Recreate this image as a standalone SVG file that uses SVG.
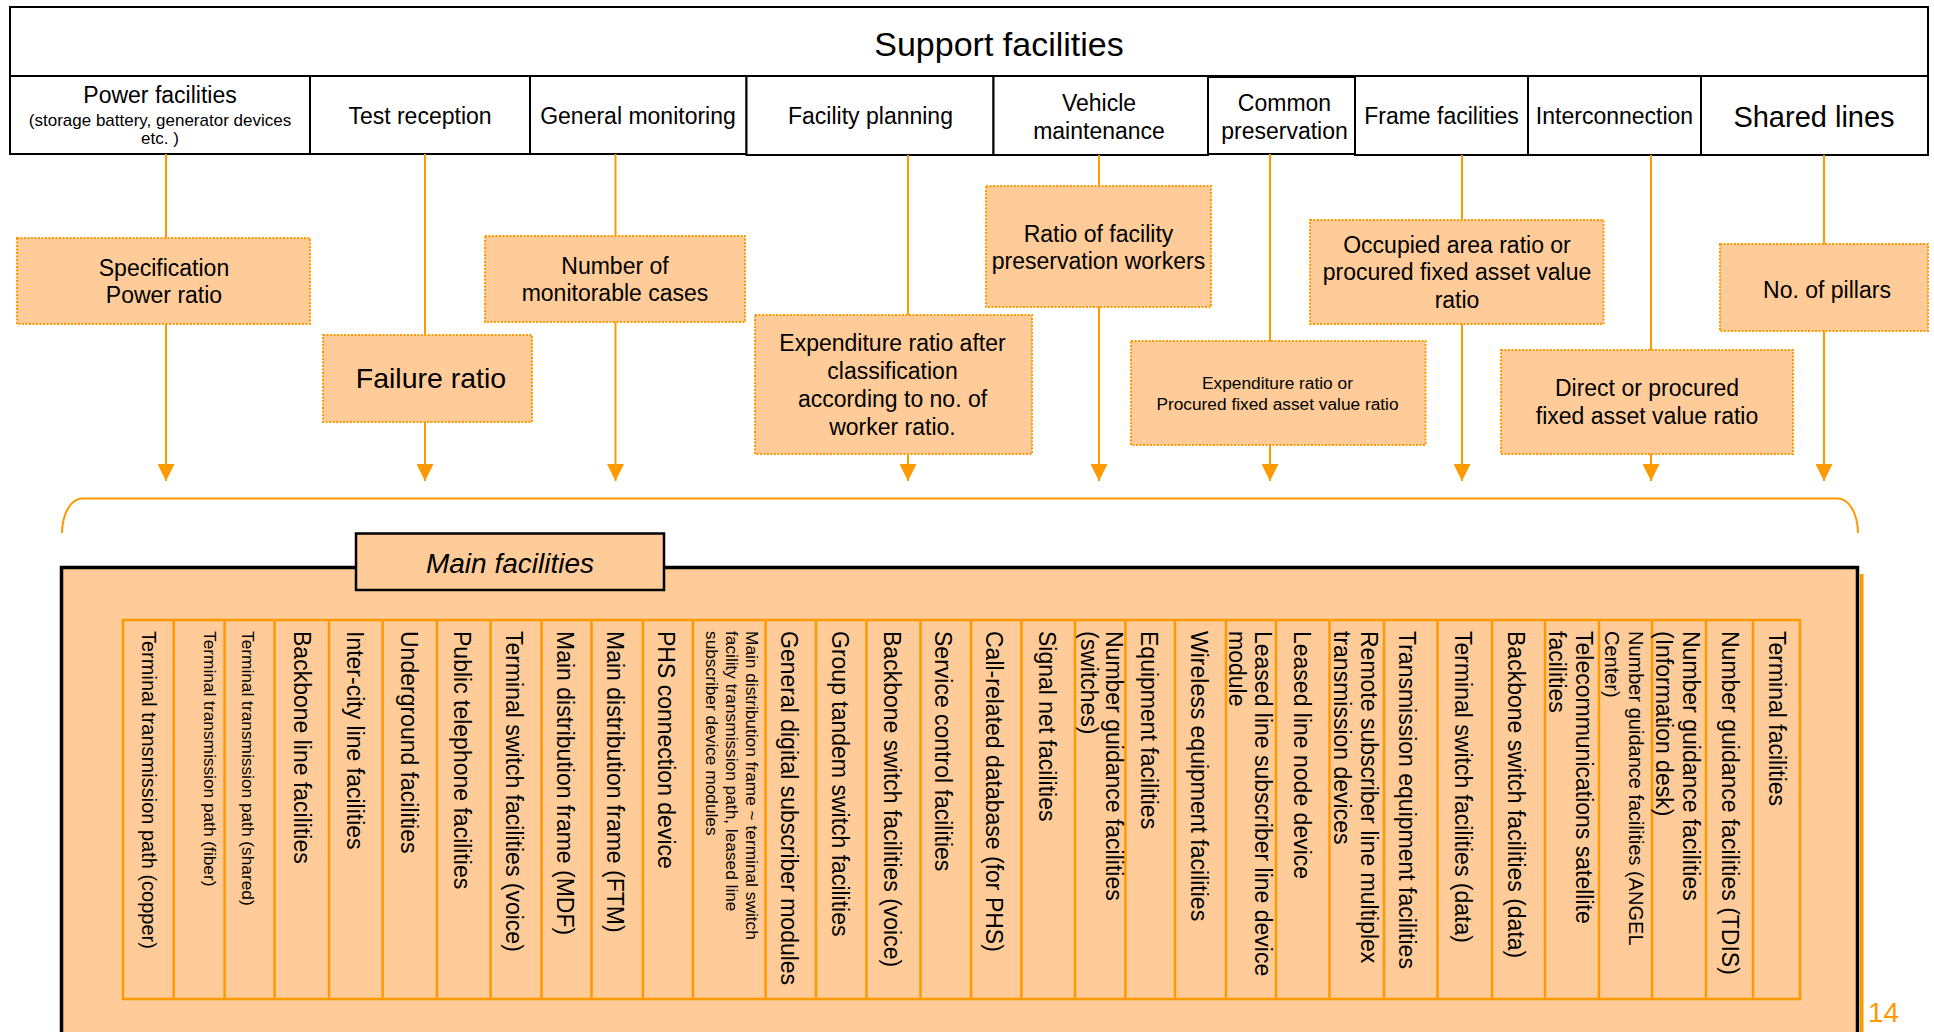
<svg xmlns="http://www.w3.org/2000/svg" width="1934" height="1032" viewBox="0 0 1934 1032">
<defs>
<style>
text { font-family: "Liberation Sans", Arial, Helvetica, sans-serif; fill: #000; }
.c { text-anchor: middle; }
.hdr { fill: #fff; stroke: #000; stroke-width: 2; }
.metric { fill: #FFCC99; stroke: #FF9900; stroke-width: 2; stroke-dasharray: 2 1.5; }
.conn { stroke: #FF9900; stroke-width: 2; fill: none; }
.arrow { stroke: #FF9900; stroke-width: 2; fill: none; marker-end: url(#arr); }
.colline { stroke: #FF9900; stroke-width: 2.5; fill: none; }
.f17 { font-size: 17.3px; }
.f20 { font-size: 20px; }
.f23 { font-size: 23px; }
</style>
<marker id="arr" markerUnits="userSpaceOnUse" markerWidth="17" markerHeight="17" viewBox="0 0 17 17" refX="17" refY="8.5" orient="auto">
<path d="M0,0 L17,8.5 L0,17 z" fill="#FF9900"/>
</marker>
</defs>

<rect x="0" y="0" width="1934" height="1032" fill="#FFFFFF"/>

<!-- Header -->
<g id="support-facilities">
<rect class="hdr" x="10" y="7" width="1918" height="69"/>
<text class="c" x="999" y="56" font-size="34">Support facilities</text>
</g>
<g id="hdr-power">
<rect class="hdr" x="10" y="76" width="300" height="78"/>
<text class="c" x="160" y="103" font-size="23">Power facilities</text>
<text class="c" x="160" y="125.5" font-size="17">(storage battery, generator devices</text>
<text class="c" x="160" y="144" font-size="17">etc. )</text>
</g>
<g id="hdr-test">
<rect class="hdr" x="310" y="76" width="220" height="78"/>
<text class="c f23" x="420" y="124">Test reception</text>
</g>
<g id="hdr-monitoring">
<rect class="hdr" x="530" y="76" width="216.5" height="78"/>
<text class="c f23" x="638" y="124">General monitoring</text>
</g>
<g id="hdr-planning">
<rect class="hdr" x="746.5" y="76" width="247" height="79"/>
<text class="c f23" x="870.5" y="124">Facility planning</text>
</g>
<g id="hdr-vehicle">
<rect class="hdr" x="993.5" y="76" width="214.5" height="79"/>
<text class="c f23" x="1099" y="110.5">Vehicle</text>
<text class="c f23" x="1099" y="138.5">maintenance</text>
</g>
<g id="hdr-common">
<rect class="hdr" x="1208" y="77" width="147" height="77" stroke-width="3"/>
<text class="c f23" x="1284.5" y="110.5">Common</text>
<text class="c f23" x="1284.5" y="138.5">preservation</text>
</g>
<g id="hdr-frame">
<rect class="hdr" x="1355" y="76" width="173" height="79"/>
<text class="c f23" x="1441.5" y="124">Frame facilities</text>
</g>
<g id="hdr-interconnection">
<rect class="hdr" x="1528" y="76" width="173" height="79"/>
<text class="c f23" x="1614.5" y="124">Interconnection</text>
</g>
<g id="hdr-shared">
<rect class="hdr" x="1701" y="76" width="227" height="79"/>
<text class="c" x="1814" y="127" font-size="29">Shared lines</text>
</g>

<!-- Connectors -->
<g id="connectors">
<line class="conn" x1="166" y1="154" x2="166" y2="238"/>
<line class="arrow" x1="166" y1="324" x2="166" y2="481"/>
<line class="conn" x1="425" y1="154" x2="425" y2="335"/>
<line class="arrow" x1="425" y1="422" x2="425" y2="481"/>
<line class="conn" x1="615.5" y1="154" x2="615.5" y2="236"/>
<line class="arrow" x1="615.5" y1="322" x2="615.5" y2="481"/>
<line class="conn" x1="908" y1="155" x2="908" y2="315"/>
<line class="arrow" x1="908" y1="454" x2="908" y2="481"/>
<line class="conn" x1="1099" y1="155" x2="1099" y2="186"/>
<line class="arrow" x1="1099" y1="307" x2="1099" y2="481"/>
<line class="conn" x1="1270" y1="154" x2="1270" y2="341"/>
<line class="arrow" x1="1270" y1="445" x2="1270" y2="481"/>
<line class="conn" x1="1462" y1="155" x2="1462" y2="220"/>
<line class="arrow" x1="1462" y1="324" x2="1462" y2="481"/>
<line class="conn" x1="1651" y1="155" x2="1651" y2="350"/>
<line class="arrow" x1="1651" y1="454" x2="1651" y2="481"/>
<line class="conn" x1="1824" y1="155" x2="1824" y2="244"/>
<line class="arrow" x1="1824" y1="331" x2="1824" y2="481"/>
<path class="conn" d="M62,533 A20,35 0 0 1 82,498.5 L1838,498.5 A20,35 0 0 1 1858,533"/>
</g>

<!-- Metric boxes -->
<g id="m-power-ratio">
<rect class="metric" x="17" y="238" width="293" height="86"/>
<text class="c f23" x="164" y="276">Specification</text>
<text class="c f23" x="164" y="303">Power ratio</text>
</g>
<g id="m-failure">
<rect class="metric" x="323" y="335" width="209" height="87"/>
<text class="c" x="431" y="388" font-size="28.5">Failure ratio</text>
</g>
<g id="m-monitorable">
<rect class="metric" x="485" y="236" width="260" height="86"/>
<text class="c f23" x="615" y="274">Number of</text>
<text class="c f23" x="615" y="301">monitorable cases</text>
</g>
<g id="m-expenditure-worker">
<rect class="metric" x="755" y="315" width="277" height="139"/>
<text class="c f23" x="892.5" y="351">Expenditure ratio after</text>
<text class="c f23" x="892.5" y="379">classification</text>
<text class="c f23" x="892.5" y="407">according to no. of</text>
<text class="c f23" x="892.5" y="435">worker ratio.</text>
</g>
<g id="m-preservation-workers">
<rect class="metric" x="986" y="186" width="225" height="121"/>
<text class="c f23" x="1098.5" y="242">Ratio of facility</text>
<text class="c f23" x="1098.5" y="269">preservation workers</text>
</g>
<g id="m-expenditure-procured">
<rect class="metric" x="1131" y="341" width="294.5" height="104"/>
<text class="c f17" x="1277.5" y="389">Expenditure ratio or</text>
<text class="c f17" x="1277.5" y="410">Procured fixed asset value ratio</text>
</g>
<g id="m-occupied-area">
<rect class="metric" x="1310" y="220" width="293.5" height="104"/>
<text class="c f23" x="1457" y="253">Occupied area ratio or</text>
<text class="c f23" x="1457" y="280">procured fixed asset value</text>
<text class="c f23" x="1457" y="308">ratio</text>
</g>
<g id="m-direct-procured">
<rect class="metric" x="1501" y="350" width="292" height="104"/>
<text class="c f23" x="1647" y="396">Direct or procured</text>
<text class="c f23" x="1647" y="424">fixed asset value ratio</text>
</g>
<g id="m-pillars">
<rect class="metric" x="1720" y="244" width="208" height="87"/>
<text class="c f23" x="1827" y="298">No. of pillars</text>
</g>

<!-- Main facilities -->
<g id="main-facilities">
<rect x="1860" y="574" width="3.5" height="470" fill="#FF9900"/>
<rect x="61.5" y="567.5" width="1796" height="480" fill="#FFCC99" stroke="#000" stroke-width="3.5"/>
<rect x="356" y="533.5" width="308" height="56.5" fill="#FFCC99" stroke="#000" stroke-width="2.5"/>
<text class="c" x="510" y="573" font-size="28" font-style="italic">Main facilities</text>

<rect class="colline" x="123" y="620" width="1677" height="379" stroke-width="3"/>
<path class="colline" d="M173.7,620V999 M224.6,620V999 M274.6,620V999 M329,620V999 M382.6,620V999 M437,620V999 M490.6,620V999 M541.5,620V999 M591.5,620V999 M642.9,620V999 M692.9,620V999 M765.6,620V999 M816,620V999 M866.5,620V999 M920.5,620V999 M971,620V999 M1021.4,620V999 M1075,620V999 M1125.4,620V999 M1175,620V999 M1226,620V999 M1276,620V999 M1329.5,620V999 M1384,620V999 M1437.5,620V999 M1492,620V999 M1545,620V999 M1599,620V999 M1652,620V999 M1706,620V999 M1753,620V999"/>

<text class="f20" transform="translate(142,631) rotate(90)">Terminal transmission path (copper)</text>
<text class="f17" transform="translate(204,631) rotate(90)">Terminal transmission path (fiber)</text>
<text class="f17" transform="translate(242,631) rotate(90)">Terminal transmission path (shared)</text>
<text class="f23" transform="translate(293.5,631) rotate(90)">Backbone line facilities</text>
<text class="f23" transform="translate(347,631) rotate(90)">Inter-city line facilities</text>
<text class="f23" transform="translate(400.5,631) rotate(90)">Underground facilities</text>
<text class="f23" transform="translate(454,631) rotate(90)">Public telephone facilities</text>
<text class="f23" transform="translate(506,631) rotate(90)">Terminal switch facilities (voice)</text>
<text class="f23" transform="translate(557,631) rotate(90)">Main distribution frame (MDF)</text>
<text class="f23" transform="translate(607,631) rotate(90)">Main distribution frame (FTM)</text>
<text class="f23" transform="translate(658,631) rotate(90)">PHS connection device</text>
<text class="f17" transform="translate(746,631) rotate(90)"><tspan x="0" y="0">Main distribution frame ~ terminal switch</tspan><tspan x="0" y="20">facility transmission path, leased line</tspan><tspan x="0" y="40">subscriber device modules</tspan></text>
<text class="f23" transform="translate(781,631) rotate(90)">General digital subscriber modules</text>
<text class="f23" transform="translate(832,631) rotate(90)">Group tandem switch facilities</text>
<text class="f23" transform="translate(884,631) rotate(90)">Backbone switch facilities (voice)</text>
<text class="f23" transform="translate(935,631) rotate(90)">Service control facilities</text>
<text class="f23" transform="translate(986,631) rotate(90)">Call-related database (for PHS)</text>
<text class="f23" transform="translate(1039,631) rotate(90)">Signal net facilities</text>
<text class="f23" transform="translate(1106,631) rotate(90)"><tspan x="0" y="0">Number guidance facilities</tspan><tspan x="0" y="25">(switches)</tspan></text>
<text class="f23" transform="translate(1140.5,631) rotate(90)">Equipment facilities</text>
<text class="f23" transform="translate(1191,631) rotate(90)">Wireless equipment facilities</text>
<text class="f23" transform="translate(1255,631) rotate(90)"><tspan x="0" y="0">Leased line subscriber line device</tspan><tspan x="0" y="26.5">module</tspan></text>
<text class="f23" transform="translate(1294,631) rotate(90)">Leased line node device</text>
<text class="f23" transform="translate(1361,631) rotate(90)"><tspan x="0" y="0">Remote subscriber line multiplex</tspan><tspan x="0" y="27">transmission devices</tspan></text>
<text class="f23" transform="translate(1398.5,631) rotate(90)">Transmission equipment facilities</text>
<text class="f23" transform="translate(1455,631) rotate(90)">Terminal switch facilities (data)</text>
<text class="f23" transform="translate(1508,631) rotate(90)">Backbone switch facilities (data)</text>
<text class="f23" transform="translate(1576,631) rotate(90)"><tspan x="0" y="0">Telecommunications satellite</tspan><tspan x="0" y="27">facilities</tspan></text>
<text class="f20" transform="translate(1628.5,631) rotate(90)"><tspan x="0" y="0">Number guidance facilities (ANGEL</tspan><tspan x="0" y="24">Center)</tspan></text>
<text class="f23" transform="translate(1682.5,631) rotate(90)"><tspan x="0" y="0">Number guidance facilities</tspan><tspan x="0" y="27">(Information desk)</tspan></text>
<text class="f23" transform="translate(1721.5,631) rotate(90)">Number guidance facilities (TDIS)</text>
<text class="f23" transform="translate(1769,631) rotate(90)">Terminal facilities</text>
</g>

<text x="1868" y="1022" font-size="28" style="fill:#FF9900">14</text>
</svg>
